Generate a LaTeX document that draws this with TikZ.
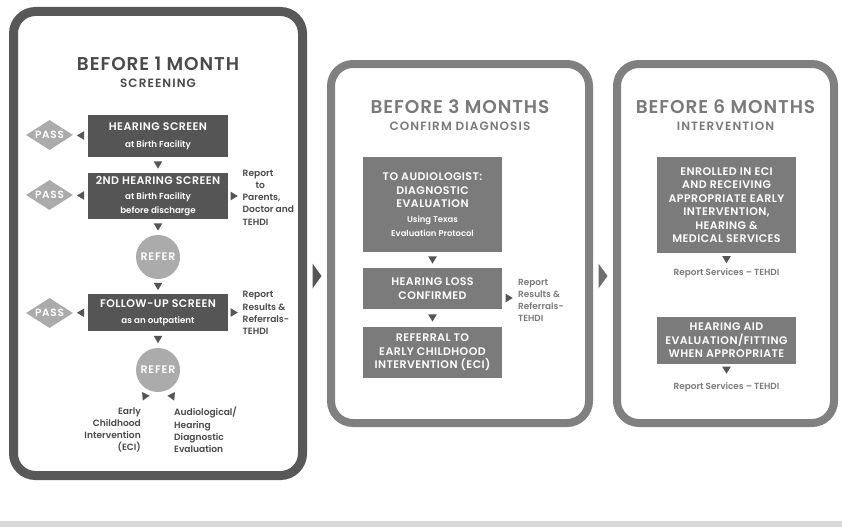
\documentclass[tikz,border=0pt]{standalone}
\usepackage{fontspec}
\setmainfont{Poppins}
\newfontfamily\medf{Poppins SemiBold}
\newfontfamily\capsf{Poppins SemiBold}[LetterSpace=4]
\newfontfamily\ttlf{Poppins SemiBold}[LetterSpace=5]
\newfontfamily\sttlf{Poppins SemiBold}[LetterSpace=9]
\newfontfamily\tagf{Poppins SemiBold}[LetterSpace=7]
\usetikzlibrary{shapes.geometric,calc}
\definecolor{frameA}{HTML}{585858}
\definecolor{frameB}{HTML}{808080}
\definecolor{boxA}{HTML}{555555}
\definecolor{boxB}{HTML}{7B7B7B}
\definecolor{light}{HTML}{ABABAB}
\definecolor{txtA}{HTML}{4A4A4A}
\definecolor{txtB}{HTML}{7A7A7A}
\definecolor{arr}{HTML}{555555}
\definecolor{barc}{HTML}{D9D9D9}
\newcommand{\arrowtri}[2]{\fill[arr,shift={(#1)},rotate=#2] (-3.6,-4.3) -- (-3.6,4.3) -- (3.6,0) -- cycle;}
\newcommand{\subA}{\medf\fontsize{8.7}{13}\selectfont}
\newcommand{\subB}{\medf\fontsize{8.4}{11.5}\selectfont}
\begin{document}
\begin{tikzpicture}[x=1pt,y=-1pt,
  frame/.style={draw, rounded corners=22pt, fill=white, inner sep=0},
  boxbase/.style={text=white, font=\capsf\fontsize{11}{13.5}\selectfont, align=center, inner sep=0, minimum width=140pt},
  dbox/.style={boxbase, fill=boxA},
  gbox/.style={boxbase, fill=boxB, minimum width=139pt},
  pass/.style={diamond, fill=light, text=white, font=\tagf\fontsize{10.5}{12}\selectfont, inner sep=0, shape aspect=1.6, minimum width=47pt, minimum height=30pt},
  refer/.style={circle, fill=light, text=white, font=\tagf\fontsize{11}{12}\selectfont, inner sep=0, minimum size=44pt},
  sidea/.style={text=txtA, font=\medf\fontsize{9.1}{12.2}\selectfont, inner sep=0},
  sideb/.style={text=txtB, font=\medf\fontsize{8.9}{12}\selectfont, inner sep=0},
  ttl/.style={font=\ttlf\fontsize{18.5}{20}\selectfont, inner sep=0},
  sttl/.style={font=\sttlf\fontsize{12}{14}\selectfont, inner sep=0}
]
\useasboundingbox (0,0) rectangle (842,527);
\fill[barc] (0,521) rectangle (842,527);

% frames
\node[frame, draw=frameA, line width=9pt, minimum width=289pt, minimum height=464pt] (f1) at (158,243.5) {};
\node[frame, draw=frameB, line width=8pt, minimum width=258pt, minimum height=359pt] (f2) at (460,243.5) {};
\node[frame, draw=frameB, line width=8pt, minimum width=217pt, minimum height=359pt] (f3) at (725.5,243.5) {};

% big arrows between frames
\fill[boxA] ($(f1.east)!0.5!(f2.west)+(-4.5,20)$) -- ++(0,25) -- ++(9,-12.5) -- cycle;
\fill[boxA!85!white] ($(f2.east)!0.5!(f3.west)+(-4.5,20)$) -- ++(0,25) -- ++(9,-12.5) -- cycle;

% ---------- panel 1 ----------
\node[ttl, text=txtA] (t1) at (158,64) {BEFORE 1 MONTH};
\node[sttl, text=txtA] (s1) at (158,83) {SCREENING};

\node[dbox, minimum height=42pt] (hs) at (158,136) {HEARING SCREEN\\[3pt]\subA at Birth Facility};
\node[dbox, minimum height=46pt] (hs2) at (158,196) {2ND HEARING SCREEN\\[2pt]\subA at Birth Facility\\\subA before discharge};
\node[refer] (r1) at (158,257) {REFER};
\node[dbox, minimum height=37pt] (fu) at (158,312.5) {FOLLOW-UP SCREEN\\[2pt]\subA as an outpatient};
\node[refer] (r2) at (158,370) {REFER};

\node[pass] (p1) at (49.5,135) {PASS};
\node[pass] (p2) at (49.5,195) {PASS};
\node[pass] (p3) at (49.5,313) {PASS};

\arrowtri{$(hs.south)!0.5!(hs2.north)$}{-90}
\arrowtri{$(hs2.south)!0.5!(r1.north)$}{-90}
\arrowtri{$(r1.south)!0.5!(fu.north)$}{-90}
\arrowtri{$(fu.south)!0.5!(r2.north)$}{-90}
\arrowtri{$(p1.east)!0.5!(hs.west)$}{180}
\arrowtri{$(p2.east)!0.5!(hs2.west)$}{180}
\arrowtri{$(p3.east)!0.5!(fu.west)$}{180}
\arrowtri{$(hs2.east)+(6,0)$}{0}
\arrowtri{$(fu.east)+(6,0)$}{0}
\arrowtri{$(r2.center)+(-12,26)$}{5}
\arrowtri{$(r2.center)+(13,26)$}{175}

\node[sidea, anchor=west, align=left] (rep1) at (242.5,197.5) {Report\\\hspace*{13pt}to\\Parents,\\Doctor and\\TEHDI};
\node[sidea, anchor=west, align=left] (rep2) at (242.5,313) {Report\\Results \&\\Referrals-\\TEHDI};
\node[sidea, anchor=east, align=right] (eci) at (141,430) {Early\\Childhood\\Intervention\\(ECI)};
\node[sidea, anchor=west, align=left] (aud) at (174,430) {Audiological/\\Hearing\\Diagnostic\\Evaluation};

% ---------- panel 2 ----------
\node[ttl, text=txtB] (t2) at (460,107) {BEFORE 3 MONTHS};
\node[sttl, text=txtB] (s2) at (460,126) {CONFIRM DIAGNOSIS};

\node[gbox, minimum height=95pt] (a) at (432.5,204.5) {TO AUDIOLOGIST:\\DIAGNOSTIC\\EVALUATION\\[1.5pt]\subB Using Texas\\\subB Evaluation Protocol};
\node[gbox, minimum height=41pt] (b) at (432.5,288.5) {HEARING LOSS\\CONFIRMED};
\node[gbox, minimum height=51pt] (c) at (432.5,352.5) {REFERRAL TO\\EARLY CHILDHOOD\\INTERVENTION (ECI)};

\arrowtri{$(a.south)!0.5!(b.north)$}{-90}
\arrowtri{$(b.south)!0.5!(c.north)$}{-90}
\arrowtri{$(b.east)+(7,9.5)$}{0}
\node[sideb, anchor=west, align=left] (rep3) at (518,300) {Report\\Results \&\\Referrals-\\TEHDI};

% ---------- panel 3 ----------
\node[ttl, text=txtB] (t3) at (725.5,107) {BEFORE 6 MONTHS};
\node[sttl, text=txtB] (s3) at (725.5,126) {INTERVENTION};

\node[gbox, minimum height=96pt] (d) at (726.5,205) {ENROLLED IN ECI\\AND RECEIVING\\APPROPRIATE EARLY\\INTERVENTION,\\HEARING \&\\MEDICAL SERVICES};
\arrowtri{$(d.south)+(0,6.5)$}{-90}
\node[sideb, align=center] (rs1) at (726.5,273) {Report Services – TEHDI};

\node[gbox, minimum height=47pt] (e) at (726.5,340.5) {HEARING AID\\EVALUATION/FITTING\\WHEN APPROPRIATE};
\arrowtri{$(e.south)+(0,6)$}{-90}
\node[sideb, align=center] (rs2) at (726.5,387) {Report Services – TEHDI};
\end{tikzpicture}
\end{document}
